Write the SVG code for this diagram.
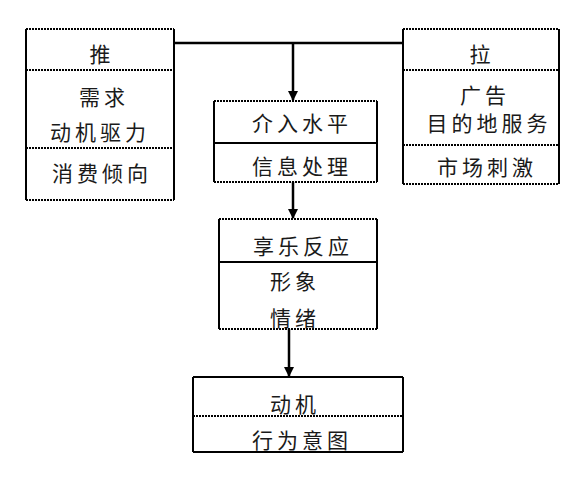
<svg xmlns="http://www.w3.org/2000/svg" width="582" height="485" viewBox="0 0 582 485">
<style>
.v{stroke:#000;stroke-width:2;fill:none}
.h{stroke:#000;stroke-width:2;fill:none;stroke-dasharray:2 1}
.c{stroke:#000;stroke-width:2.5;fill:none}
text{font-family:"Noto Sans CJK SC","Noto Sans CJK JP",sans-serif;font-size:21px;fill:#1a1a1a;text-anchor:middle;letter-spacing:4px}
</style>
<defs>
<marker id="ah" markerWidth="10" markerHeight="10" refX="9" refY="5" orient="auto" markerUnits="userSpaceOnUse">
<path d="M0,0 L10,5 L0,10 Z" fill="#000"/>
</marker>
</defs>
<rect width="582" height="485" fill="#fff"/>
<g id="connectors">
<path class="c" d="M175,43 H403"/>
<path class="c" d="M293,43 V100" marker-end="url(#ah)"/>
<path class="c" d="M293,182 V218" marker-end="url(#ah)"/>
<path class="c" d="M289,329 V376" marker-end="url(#ah)"/>
</g>
<g id="push">
<line class="v" x1="26" y1="29" x2="26" y2="200"/>
<line class="v" x1="174" y1="29" x2="174" y2="200"/>
<line class="h" x1="26" y1="29" x2="174" y2="29"/>
<line class="h" x1="26" y1="70" x2="174" y2="70"/>
<line class="h" x1="26" y1="148" x2="174" y2="148"/>
<line class="h" x1="26" y1="200" x2="174" y2="200"/>
<text x="102" y="62">推</text>
<text x="104" y="105">需求</text>
<text x="100" y="140">动机驱力</text>
<text x="102" y="181">消费倾向</text>
</g>
<g id="pull">
<line class="v" x1="403" y1="29" x2="403" y2="184"/>
<line class="v" x1="559" y1="29" x2="559" y2="184"/>
<line class="h" x1="403" y1="29" x2="559" y2="29"/>
<line class="h" x1="403" y1="70" x2="559" y2="70"/>
<line class="h" x1="403" y1="145" x2="559" y2="145"/>
<line class="h" x1="403" y1="184" x2="559" y2="184"/>
<text x="482" y="62">拉</text>
<text x="485" y="103">广告</text>
<text x="489" y="131">目的地服务</text>
<text x="487" y="175">市场刺激</text>
</g>
<g id="involvement">
<line class="v" x1="214" y1="101" x2="214" y2="182"/>
<line class="v" x1="377" y1="101" x2="377" y2="182"/>
<line class="h" x1="214" y1="101" x2="377" y2="101"/>
<line class="v" x1="214" y1="143" x2="377" y2="143"/>
<line class="h" x1="214" y1="182" x2="377" y2="182"/>
<text x="302" y="131">介入水平</text>
<text x="302" y="174">信息处理</text>
</g>
<g id="hedonic">
<line class="v" x1="219" y1="219" x2="219" y2="329"/>
<line class="v" x1="377" y1="219" x2="377" y2="329"/>
<line class="h" x1="219" y1="219" x2="377" y2="219"/>
<line class="v" x1="219" y1="262" x2="377" y2="262"/>
<line class="h" x1="219" y1="329" x2="377" y2="329"/>
<text x="303" y="254">享乐反应</text>
<text x="295" y="289">形象</text>
<text x="295" y="326">情绪</text>
</g>
<g id="motivation">
<line class="v" x1="193" y1="377" x2="193" y2="452"/>
<line class="v" x1="403" y1="377" x2="403" y2="452"/>
<line class="v" x1="193" y1="377" x2="403" y2="377"/>
<line class="h" x1="193" y1="416" x2="403" y2="416"/>
<line class="v" x1="193" y1="452" x2="403" y2="452"/>
<text x="295" y="412">动机</text>
<text x="302" y="448">行为意图</text>
</g>
</svg>
